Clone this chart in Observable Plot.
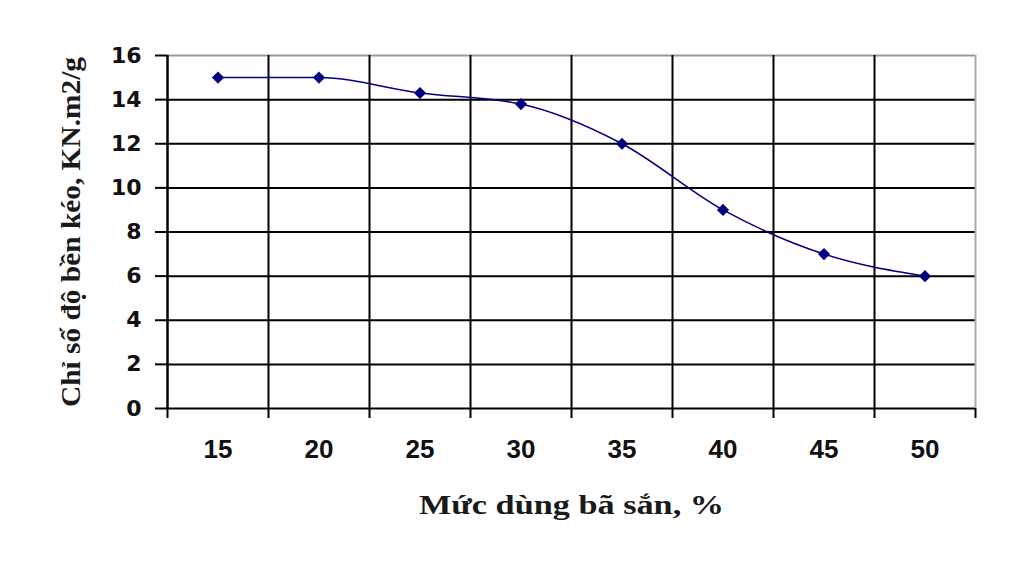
<!DOCTYPE html>
<html>
<head>
<meta charset="utf-8">
<script src="https://cdn.jsdelivr.net/npm/d3@7"></script>
<script src="https://cdn.jsdelivr.net/npm/@observablehq/plot@0.6"></script>
<style>
  html, body { margin: 0; padding: 0; background: #fff; }
  svg { display: block; }
</style>
</head>
<body>
<div id="chart"></div>
<script>
const categories = [15, 20, 25, 30, 35, 40, 45, 50];
const values = [15, 15, 14.3, 13.8, 12, 9, 7, 6];
const yTicks = [0, 2, 4, 6, 8, 10, 12, 14, 16];
const xLabel = "Mức dùng bã sắn, %";
const yLabel = "Chỉ số độ bền kéo, KN.m2/g";

const data = categories.map((c, i) => ({x: c, y: values[i]}));
const half = (categories[1] - categories[0]) / 2;
const gridX = [categories[0] - half, ...categories.map(c => c + half)];
const xMax = gridX[gridX.length - 1];
const yMax = yTicks[yTicks.length - 1];

const chart = Plot.plot({
  width: 1024,
  height: 576,
  marginLeft: 167,
  marginRight: 49,
  marginTop: 55,
  marginBottom: 168,
  x: {domain: [gridX[0], xMax], type: "linear"},
  y: {domain: [0, yMax]},
  style: {background: "#fff"},
  marks: [
    Plot.ruleY(yTicks, {stroke: d => d === yMax ? "#999" : "#000", strokeWidth: 2, x1: gridX[0], x2: xMax}),
    Plot.ruleX(gridX, {stroke: d => d === xMax ? "#aaa" : "#000", strokeWidth: d => d === gridX[0] ? 2.5 : 2, y1: 0, y2: yMax}),
    Plot.axisY({ticks: yTicks, tickSize: 12, tickPadding: 14, strokeWidth: 2, fontSize: 22, fontWeight: "bold", fontFamily: "DejaVu Sans", fill: "#111", label: null}),
    Plot.axisX({ticks: gridX, tickSize: 10, tickFormat: () => "", strokeWidth: 2, label: null}),
    Plot.axisX({ticks: categories, tickSize: 0, tickPadding: 31, fontSize: 26, fontWeight: "bold", fontFamily: "Liberation Sans", fill: "#111", label: null}),
    Plot.line(data, {x: "x", y: "y", stroke: "#000080", strokeWidth: 1.5, curve: "monotone-x"}),
    Plot.dot(data, {x: "x", y: "y", symbol: "diamond2", r: 5.5, fill: "#000080", stroke: "none"}),
    Plot.text([xLabel], {frameAnchor: "bottom", textAnchor: "middle", lineAnchor: "middle", dy: 97, fontSize: 27, fontWeight: "bold", fontFamily: "Liberation Serif", fill: "#1a1a1a", text: d => d}),
    Plot.text([yLabel], {frameAnchor: "left", textAnchor: "middle", lineAnchor: "middle", dx: -96, rotate: -90, fontSize: 27, fontWeight: "bold", fontFamily: "Liberation Serif", fill: "#1a1a1a", text: d => d})
  ]
});
d3.select(chart).selectAll("text").each(function() {
  const t = this.textContent;
  if (t === xLabel) d3.select(this).attr("textLength", 305).attr("lengthAdjust", "spacingAndGlyphs");
  if (t === yLabel) d3.select(this).attr("textLength", 350).attr("lengthAdjust", "spacingAndGlyphs");
});
document.getElementById("chart").appendChild(chart);
</script>
</body>
</html>
